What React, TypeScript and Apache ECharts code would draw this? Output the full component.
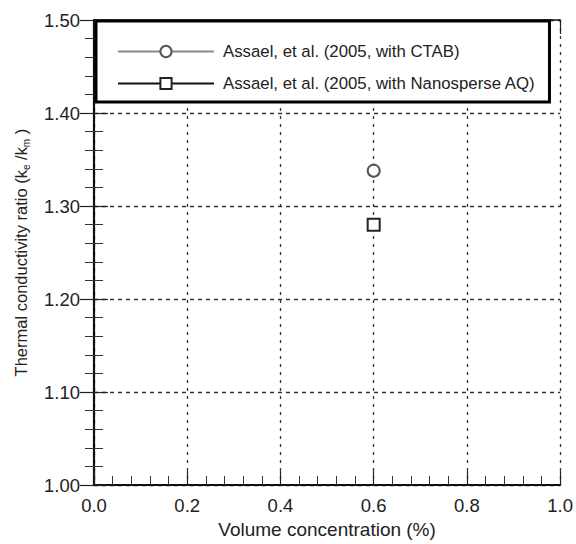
import React, { useEffect, useRef } from "react";
import * as echarts from "echarts";

const seriesNames = [
  "Assael, et al. (2005, with CTAB)",
  "Assael, et al. (2005, with Nanosperse AQ)",
];
const ctabData: [number, number][] = [[0.6, 1.338]];
const nanoData: [number, number][] = [[0.6, 1.28]];
const xTicks = ["0.0", "0.2", "0.4", "0.6", "0.8", "1.0"];
const yTicks = ["1.00", "1.10", "1.20", "1.30", "1.40", "1.50"];

const FONT = "Liberation Sans";

export default function App() {
  const ref = useRef<HTMLDivElement>(null);
  useEffect(() => {
    document.body.style.margin = "0";
    const chart = echarts.init(ref.current!, null, { renderer: "svg" });
    const axisCommon = {
      type: "value" as const,
      axisLine: { show: true, lineStyle: { color: "#111", width: 2.2 } },
      axisTick: { show: true, inside: true, length: 14, lineStyle: { color: "#222", width: 1.2 } },
      minorTick: { show: true, splitNumber: 5, length: 9, lineStyle: { color: "#333", width: 1 } },
    };
    chart.setOption({
      animation: false,
      backgroundColor: "#fff",
      grid: { left: 94, right: 13, top: 20, bottom: 57 },
      legend: {
        show: true,
        orient: "vertical",
        left: 96,
        top: 21,
        padding: [22, 14, 10, 21],
        itemGap: 15,
        itemWidth: 96,
        itemHeight: 14,
        backgroundColor: "#fff",
        borderColor: "#000",
        borderWidth: 3,
        borderRadius: 0,
        textStyle: { fontFamily: FONT, fontSize: 16.8, color: "#222", padding: [0, 0, 0, 4] },
        data: seriesNames,
      },
      xAxis: [
        {
          ...axisCommon,
          min: 0,
          max: 1,
          interval: 0.2,
          position: "bottom",
          axisLabel: {
            fontFamily: FONT,
            fontSize: 18.5,
            color: "#222",
            margin: 11,
            formatter: (v: number) => xTicks[Math.round(v / 0.2)] ?? "",
          },
          splitLine: { show: true, lineStyle: { color: "#333", type: [3, 5], width: 1.3 } },
          name: "Volume concentration (%)",
          nameLocation: "middle",
          nameGap: 30,
          nameTextStyle: { fontFamily: FONT, fontSize: 19, color: "#222" },
        },
        {
          ...axisCommon,
          min: 0,
          max: 1,
          interval: 0.2,
          position: "top",
          axisLine: { show: true, lineStyle: { color: "#111", width: 1.5 } },
          axisLabel: { show: false },
          splitLine: { show: false },
        },
      ],
      yAxis: [
        {
          ...axisCommon,
          min: 1.0,
          max: 1.5,
          interval: 0.1,
          position: "left",
          axisLabel: {
            fontFamily: FONT,
            fontSize: 18.5,
            color: "#222",
            margin: 14,
            formatter: (v: number) => yTicks[Math.round((v - 1.0) / 0.1)] ?? "",
          },
          splitLine: { show: true, lineStyle: { color: "#333", type: [4, 4], width: 1.3 } },
          name: "{n|Thermal conductivity ratio (k}{s|e}{n| /k}{s|m}{n| )}",
          nameLocation: "middle",
          nameGap: 63,
          nameTextStyle: {
            fontFamily: FONT,
            fontSize: 16.5,
            color: "#222",
            rich: {
              n: { fontFamily: FONT, fontSize: 16.5, color: "#222" },
              s: { fontFamily: FONT, fontSize: 10, color: "#222", padding: [11, 0, 0, 0] },
            },
          },
        },
        {
          ...axisCommon,
          min: 1.0,
          max: 1.5,
          interval: 0.1,
          position: "right",
          axisLine: { show: true, lineStyle: { color: "#111", width: 1.5 } },
          axisLabel: { show: false },
          splitLine: { show: false },
        },
      ],
      series: [
        {
          name: seriesNames[0],
          type: "line",
          data: ctabData,
          symbol: "emptyCircle",
          symbolSize: 12,
          itemStyle: { color: "#555", borderColor: "#333", borderWidth: 1.5 },
          lineStyle: { color: "#888", width: 1.2 },
        },
        {
          name: seriesNames[1],
          type: "line",
          data: nanoData,
          symbol: "emptyRect",
          symbolSize: 12,
          itemStyle: { color: "#222", borderColor: "#222", borderWidth: 1.5 },
          lineStyle: { color: "#111", width: 1.2 },
        },
      ],
    });
    return () => chart.dispose();
  }, []);
  return <div ref={ref} style={{ width: 576, height: 544 }} />;
}
